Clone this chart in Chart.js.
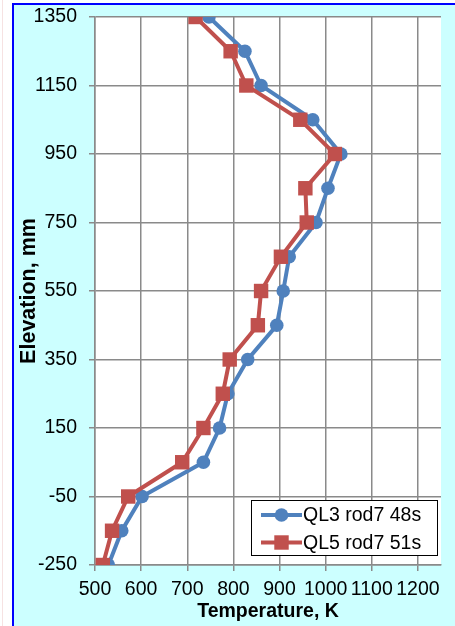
<!DOCTYPE html>
<html>
<head>
<meta charset="utf-8">
<script src="https://cdn.jsdelivr.net/npm/chart.js@4/dist/chart.umd.min.js"></script>
<style>
    html, body { margin: 0; padding: 0; background: #fff; }
    body { width: 455px; height: 626px; position: relative; overflow: hidden; }
    .edge { position: absolute; left: 2px; top: 0; width: 1px; height: 626px; background: #f6e2e2; }
    .frame {
        position: absolute; left: 12px; top: 3px; right: 0; bottom: 0;
        background: #ccffff;
        border-left: 2px solid #0000ff;
        border-top: 2px solid #0000ff;
    }
    #chart { position: absolute; left: 0; top: 0; }
</style>
</head>
<body>
<div class="edge"></div>
<div class="frame"></div>
<canvas id="chart" width="455" height="626"></canvas>
<script>
// Chart data
const elevations = [1350, 1250, 1150, 1050, 950, 850, 750, 650, 550, 450, 350, 250, 150, 50, -50, -150, -250];
const ql3Temps = [747, 825, 860, 972, 1033, 1005, 979, 921, 908, 894, 831, 788, 770, 735, 602, 558, 529];
const ql5Temps = [718, 794, 828, 945, 1020, 956, 959, 903, 860, 853, 792, 777, 735, 689, 572, 537, 517];
const seriesLabels = ['QL3 rod7 48s', 'QL5 rod7 51s'];
const xTicks = [500, 600, 700, 800, 900, 1000, 1100, 1200];
const yTicks = [-250, -50, 150, 350, 550, 750, 950, 1150, 1350];

const FONT = "'Liberation Sans', Arial, sans-serif";
const gridColor = '#8a8a8a';

function toPoints(temps) {
    return temps.map((t, i) => ({ x: t, y: elevations[i] }));
}

// White plot area
const plotBackground = {
    id: 'plotBackground',
    beforeDraw(chart) {
        const { ctx, chartArea } = chart;
        ctx.save();
        ctx.fillStyle = '#ffffff';
        ctx.fillRect(chartArea.left, chartArea.top, chartArea.right - chartArea.left, chartArea.bottom - chartArea.top);
        ctx.restore();
    }
};

// Legend box inside the plot, bottom right
const insideLegend = {
    id: 'insideLegend',
    afterDraw(chart) {
        const { ctx, chartArea } = chart;
        const boxW = 186, boxH = 55;
        const x = chartArea.right - 4 - boxW;
        const y = chartArea.bottom - 10 - boxH;
        ctx.save();
        ctx.fillStyle = '#ffffff';
        ctx.fillRect(x, y, boxW, boxH);
        ctx.strokeStyle = '#000000';
        ctx.lineWidth = 1;
        ctx.strokeRect(x + 0.5, y + 0.5, boxW, boxH);

        chart.data.datasets.forEach((ds, i) => {
            const cy = y + 15 + i * 27.5;
            const x0 = x + 10, x1 = x + 51;
            ctx.strokeStyle = ds.borderColor;
            ctx.lineWidth = ds.borderWidth;
            ctx.beginPath();
            ctx.moveTo(x0, cy);
            ctx.lineTo(x1, cy);
            ctx.stroke();
            const mx = (x0 + x1) / 2;
            ctx.fillStyle = ds.backgroundColor;
            if (ds.pointStyle === 'rect') {
                const s = ds.pointRadius * Math.SQRT1_2;
                ctx.fillRect(mx - s, cy - s, 2 * s, 2 * s);
            } else {
                ctx.beginPath();
                ctx.arc(mx, cy, ds.pointRadius, 0, Math.PI * 2);
                ctx.fill();
            }
            ctx.fillStyle = '#000000';
            ctx.font = '19.5px ' + FONT;
            ctx.textAlign = 'left';
            ctx.textBaseline = 'middle';
            ctx.fillText(ds.label, x1 + 1, cy + 1);
        });
        ctx.restore();
    }
};

const ctx = document.getElementById('chart').getContext('2d');
const chart = new Chart(ctx, {
    type: 'scatter',
    data: {
        datasets: [{
            label: seriesLabels[0],
            data: toPoints(ql3Temps),
            showLine: true,
            borderColor: '#4f81bd',
            backgroundColor: '#4f81bd',
            borderWidth: 4,
            pointStyle: 'circle',
            pointRadius: 6.8,
            pointBorderWidth: 0,
            order: 2
        }, {
            label: seriesLabels[1],
            data: toPoints(ql5Temps),
            showLine: true,
            borderColor: '#c0504d',
            backgroundColor: '#c0504d',
            borderWidth: 4,
            pointStyle: 'rect',
            pointRadius: 10.2,
            pointBorderWidth: 0,
            order: 1
        }]
    },
    options: {
        responsive: false,
        animation: false,
        layout: {
            padding: { left: 18, top: 17, right: 14, bottom: 0 }
        },
        plugins: {
            legend: { display: false },
            tooltip: { enabled: false }
        },
        scales: {
            x: {
                type: 'linear',
                min: 500,
                max: 1250,
                afterBuildTicks: scale => { scale.ticks = xTicks.map(v => ({ value: v })); },
                afterFit: scale => {
                    scale.height = 61;
                    scale.paddingLeft = 0;
                    scale.paddingRight = 0;
                },
                grid: { color: gridColor, lineWidth: 1.5, tickLength: 6 },
                border: { color: gridColor, width: 1.5 },
                ticks: {
                    autoSkip: false,
                    maxRotation: 0,
                    padding: 7,
                    color: '#000',
                    font: { family: FONT, size: 19.5 },
                    callback: value => String(value)
                },
                title: {
                    display: true,
                    text: 'Temperature, K',
                    color: '#000',
                    padding: { top: 0, bottom: 3 },
                    font: { family: FONT, size: 19.5, weight: 'bold' }
                }
            },
            y: {
                type: 'linear',
                min: -250,
                max: 1350,
                afterBuildTicks: scale => { scale.ticks = yTicks.map(v => ({ value: v })); },
                afterFit: scale => {
                    scale.width = 77;
                    scale.paddingTop = 0;
                    scale.paddingBottom = 0;
                },
                grid: { color: gridColor, lineWidth: 1.5, tickLength: 6 },
                border: { color: gridColor, width: 1.5 },
                ticks: {
                    padding: 12,
                    color: '#000',
                    font: { family: FONT, size: 19.5 },
                    callback: value => String(value)
                },
                title: {
                    display: true,
                    text: 'Elevation, mm',
                    color: '#000',
                    padding: { top: 0, bottom: 0 },
                    font: { family: FONT, size: 21.5, weight: 'bold', lineHeight: 1 }
                }
            }
        }
    },
    plugins: [plotBackground, insideLegend]
});
</script>
</body>
</html>
